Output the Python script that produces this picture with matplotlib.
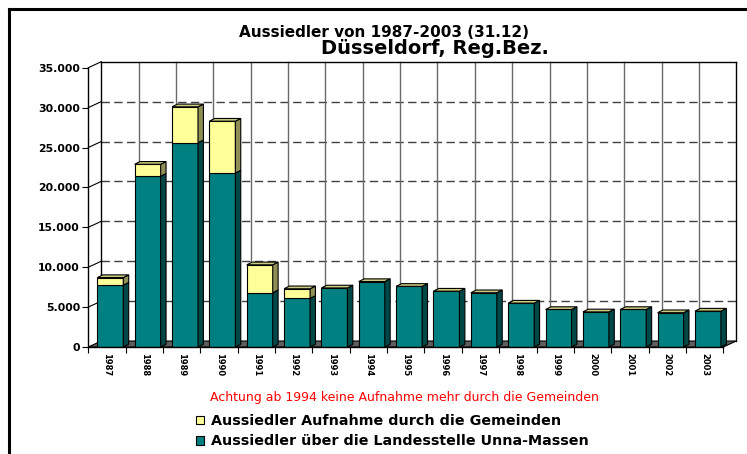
import matplotlib
matplotlib.use('Agg')
import matplotlib.pyplot as plt
import numpy as np
from matplotlib.patches import Patch
from matplotlib.lines import Line2D
from matplotlib.ticker import FuncFormatter

years = ['1987', '1988', '1989', '1990', '1991', '1992', '1993', '1994', '1995',
         '1996', '1997', '1998', '1999', '2000', '2001', '2002', '2003']
landesstelle = [7750, 21400, 25600, 21800, 6800, 6100, 7400, 8200, 7600,
                7000, 6800, 5500, 4700, 4400, 4700, 4300, 4500]
gemeinden = [950, 1500, 4500, 6500, 3500, 1200, 0, 0, 0,
             0, 0, 0, 0, 0, 0, 0, 0]
yticks = [0, 5000, 10000, 15000, 20000, 25000, 30000, 35000]

title1 = 'Aussiedler von 1987-2003 (31.12)'
title2 = 'Düsseldorf, Reg.Bez.'
note = 'Achtung ab 1994 keine Aufnahme mehr durch die Gemeinden'
label_gem = 'Aussiedler Aufnahme durch die Gemeinden'
label_lan = 'Aussiedler über die Landesstelle Unna-Massen'

plt.rcParams['font.family'] = ['DejaVu Sans']

W, H = 747, 454
fig = plt.figure(figsize=(W / 100, H / 100), dpi=100)
fig.patch.set_facecolor('white')

# front plane geometry (pixels)
x0, x1 = 88.3, 723.3
y0, y1 = 347, 67.7
ax = fig.add_axes([x0 / W, (H - y0) / H, (x1 - x0) / W, (y0 - y1) / H])
n = len(years)
ax.set_xlim(-0.5, n - 0.5)
ymax = 35000
ax.set_ylim(0, ymax)
ax.patch.set_visible(False)

pxx = (x1 - x0) / n          # px per category
pxy = (y0 - y1) / ymax       # px per unit
DX = 13 / pxx                # wall depth in data units
DY = 6 / pxy
bdx = 5.4 / pxx              # bar depth
bdy = 2.7 / pxy
bl = 9 / pxx                 # bar front offset from category start
bw = 26 / pxx                # bar front width

teal, teal_side = '#008080', '#004848'
yel, yel_side, yel_top = '#FFFF99', '#8F8F55', '#CCCC80'

# floor
ax.fill([-0.5, n - 0.5, n - 0.5 + DX, -0.5 + DX], [0, 0, DY, DY],
        facecolor='#5E5E5E', edgecolor='black', lw=0.8, zorder=1, clip_on=False)
# back wall verticals
for k in range(n + 1):
    xb = k - 0.5 + DX
    edge = (k == 0 or k == n)
    ax.plot([xb, xb], [DY, ymax + DY], color='black' if edge else '#6A6A6A',
            lw=1.0 if edge else 1.0, zorder=1.5, clip_on=False)
# back wall top edge
ax.plot([-0.5 + DX, n - 0.5 + DX], [ymax + DY, ymax + DY], color='black', lw=1.0,
        zorder=1.5, clip_on=False)
# dashed horizontal gridlines on back wall
for v in yticks[1:-1]:
    ax.plot([-0.5 + DX, n - 0.5 + DX], [v + DY, v + DY], color='#404040', lw=1.0,
            dashes=(6.0, 3.2), zorder=1.4, clip_on=False)
# side wall diagonals
for v in yticks[1:]:
    ax.plot([-0.5, -0.5 + DX], [v, v + DY], color='black', lw=0.8, zorder=1.5,
            clip_on=False)

# bars
for i in range(n):
    L = i - 0.5 + bl
    R = L + bw
    t = landesstelle[i]
    g = gemeinden[i]
    tot = t + g
    # teal
    ax.bar(L, t, width=bw, align='edge', color=teal, edgecolor='black', lw=0.8, zorder=3)
    ax.fill([R, R + bdx, R + bdx, R], [0, bdy, t + bdy, t], facecolor=teal_side,
            edgecolor='black', lw=0.8, zorder=3, clip_on=False)
    if g > 0:
        ax.bar(L, g, bottom=t, width=bw, align='edge', color=yel, edgecolor='black',
               lw=0.8, zorder=3)
        ax.fill([R, R + bdx, R + bdx, R], [t, t + bdy, tot + bdy, tot],
                facecolor=yel_side, edgecolor='black', lw=0.8, zorder=3, clip_on=False)
    ax.fill([L, R, R + bdx, L + bdx], [tot, tot, tot + bdy, tot + bdy],
            facecolor=yel_top, edgecolor='black', lw=0.8, zorder=3, clip_on=False)

# axes styling
for s in ['top', 'right']:
    ax.spines[s].set_visible(False)
ax.spines['left'].set_linewidth(1.0)
ax.spines['bottom'].set_linewidth(1.0)
ax.spines['left'].set_zorder(4)
ax.spines['bottom'].set_zorder(4)

ax.set_yticks(yticks)
ax.yaxis.set_major_formatter(FuncFormatter(lambda v, p: f'{int(v):,}'.replace(',', '.')))
ax.tick_params(axis='y', length=4, width=0.8, pad=2, labelsize=7.8)
for lab in ax.get_yticklabels():
    lab.set_fontweight('bold')

ax.set_xticks(range(n))
ax.set_xticklabels(years, rotation=-90, fontsize=6, fontweight='bold')
ax.tick_params(axis='x', which='major', length=0, pad=4)
ax.set_xticks(np.arange(-0.5, n), minor=True)
ax.tick_params(axis='x', which='minor', length=4, width=0.8)
for lab in ax.get_xticklabels():
    lab.set_x(lab.get_position()[0])

# titles
fig.text(384 / W, 1 - 32.5 / H, title1, ha='center', va='center', fontsize=11,
         fontweight='bold')
fig.text(435 / W, 1 - 48 / H, title2, ha='center', va='center', fontsize=14,
         fontweight='bold')
fig.text(404 / W, 1 - 398 / H, note, ha='center', va='center', fontsize=9,
         color='#FF0000')

handles = [Patch(facecolor=yel, edgecolor='black', lw=0.8),
           Patch(facecolor=teal, edgecolor='black', lw=0.8)]
fig.legend(handles, [label_gem, label_lan], loc='upper left',
           bbox_to_anchor=(196 / W, 1 - 414 / H), frameon=False,
           prop={'weight': 'bold', 'size': 10.3}, handlelength=0.55, handleheight=0.55,
           handletextpad=0.5, labelspacing=0.45, borderaxespad=0, borderpad=0)

# outer frame (top and left)
fig.add_artist(Line2D([8.5 / W, 1], [1 - 8.5 / H, 1 - 8.5 / H], color='black', lw=2.2,
                      transform=fig.transFigure))
fig.add_artist(Line2D([8.5 / W, 8.5 / W], [0, 1 - 8.5 / H], color='black', lw=2.2,
                      transform=fig.transFigure))

fig.savefig('out.png', dpi=100, facecolor='white')
